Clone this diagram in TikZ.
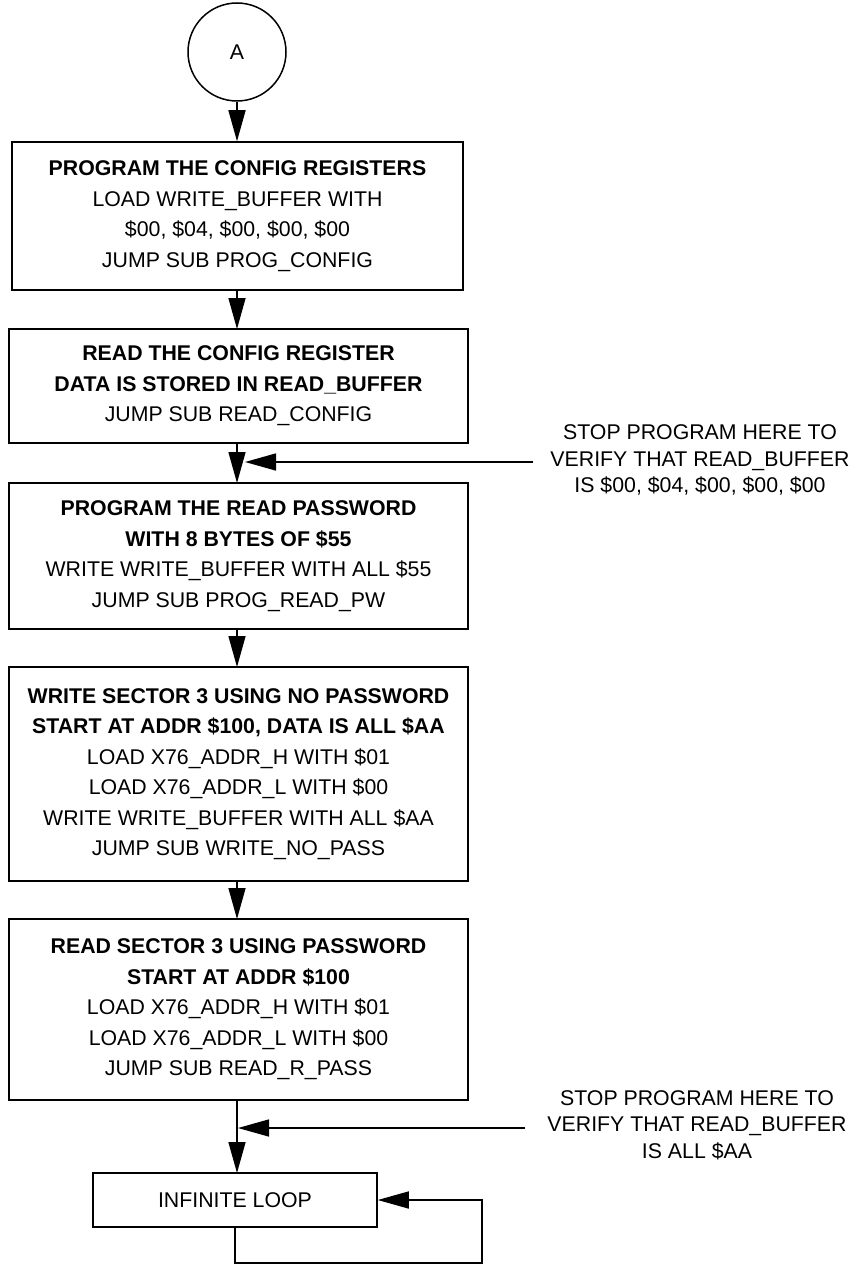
\documentclass[tikz,border=0pt]{standalone}
\usepackage{fontspec}
\setmainfont{Liberation Sans}
\usetikzlibrary{arrows.meta}
\begin{document}
\begin{tikzpicture}[x=1pt,y=-1pt,
  line width=1.5pt,
  every node/.style={font=\fontsize{21.3}{30.5}\selectfont, align=center, inner sep=0pt},
  box/.style={draw, rectangle, line width=1.5pt},
  arr/.style={-{Triangle[length=31pt,width=17pt]}},
  note/.style={font=\fontsize{21.3}{26.5}\selectfont, align=center}]
\useasboundingbox (0,0) rectangle (857,1268);

\node[draw, circle, minimum size=98pt] (A) at (237,52) {A};

\node[box, minimum width=451pt, minimum height=148pt] (b1) at (237.5,216)
  {\textbf{PROGRAM THE CONFIG REGISTERS}\\LOAD WRITE\_BUFFER WITH\\\$00, \$04, \$00, \$00, \$00\\JUMP SUB PROG\_CONFIG};

\node[box, minimum width=459pt, minimum height=114pt] (b2) at (238.5,386)
  {\textbf{READ THE CONFIG REGISTER}\\\textbf{DATA IS STORED IN READ\_BUFFER}\\JUMP SUB READ\_CONFIG};

\node[box, minimum width=459pt, minimum height=146pt] (b3) at (238.5,556)
  {\textbf{PROGRAM THE READ PASSWORD}\\\textbf{WITH 8 BYTES OF \$55}\\WRITE WRITE\_BUFFER WITH ALL \$55\\JUMP SUB PROG\_READ\_PW};

\node[box, minimum width=459pt, minimum height=214pt] (b4) at (238.5,774)
  {\textbf{WRITE SECTOR 3 USING NO PASSWORD}\\\textbf{START AT ADDR \$100, DATA IS ALL \$AA}\\LOAD X76\_ADDR\_H WITH \$01\\LOAD X76\_ADDR\_L WITH \$00\\WRITE WRITE\_BUFFER WITH ALL \$AA\\JUMP SUB WRITE\_NO\_PASS};

\node[box, minimum width=459pt, minimum height=181pt] (b5) at (238.5,1009.5)
  {\textbf{READ SECTOR 3 USING PASSWORD}\\\textbf{START AT ADDR \$100}\\LOAD X76\_ADDR\_H WITH \$01\\LOAD X76\_ADDR\_L WITH \$00\\JUMP SUB READ\_R\_PASS};

\node[box, minimum width=284pt, minimum height=54pt] (b6) at (235,1200) {INFINITE LOOP};

\node[note] (n1) at (700,460) {STOP PROGRAM HERE TO\\VERIFY THAT READ\_BUFFER\\IS \$00, \$04, \$00, \$00, \$00};
\node[note] (n2) at (697,1125) {STOP PROGRAM HERE TO\\VERIFY THAT READ\_BUFFER\\IS ALL \$AA};

\coordinate (s1) at (533,462);
\coordinate (t1) at (245,462);
\coordinate (s2) at (525,1128);
\coordinate (t2) at (238,1128);
\coordinate (l1) at (235,1263);
\coordinate (l2) at (482,1263);
\coordinate (l3) at (482,1200);

\draw[arr] (A.south) -- (A.south |- b1.north);
\draw[arr] (237,290) -- (237,329);
\draw[arr] (237,443) -- (237,483);
\draw[arr] (237,629) -- (237,667);
\draw[arr] (237,881) -- (237,919);
\draw[arr] (237,1100) -- (237,1173);
\draw[arr] (s1) -- (t1);
\draw[arr] (s2) -- (t2);
\draw[arr] (b6.south) -- (l1) -- (l2) -- (l3) -- (b6.east);
\end{tikzpicture}
\end{document}
